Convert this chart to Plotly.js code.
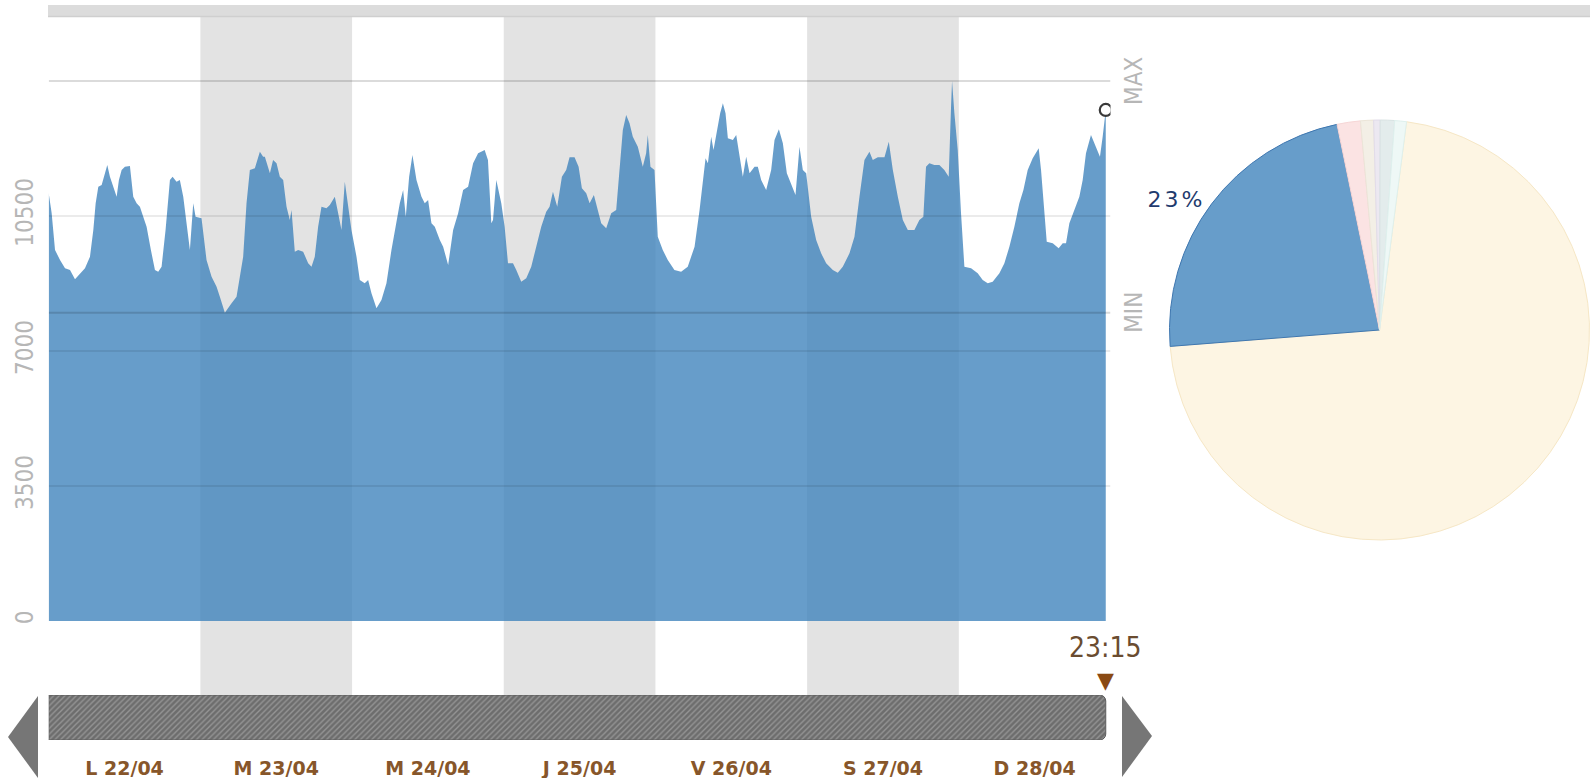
<!DOCTYPE html>
<html>
<head>
<meta charset="utf-8">
<script src="https://cdn.plot.ly/plotly-3.0.1.min.js"></script>
<style>
  html, body { margin: 0; padding: 0; background: #ffffff; }
  #chart { width: 1590px; height: 778px; }
  .slicetext { letter-spacing: 3px; }
</style>
</head>
<body>
<div id="chart"></div>
<script>
// Hours elapsed since Monday 22/04 00:00, and the matching load (MW)
const hours = [
  0, 0.47, 1.0, 1.79, 2.58, 3.37, 4.16, 4.95, 5.74, 6.53, 7.06, 7.43, 7.85, 8.38, 8.9, 9.27, 9.69,
  10.22, 10.75, 11.11, 11.54, 12.06, 12.85, 13.38, 13.91, 14.43, 14.96, 15.49, 16.17, 16.81, 17.33,
  17.86, 18.49, 19.18, 19.6, 20.23, 20.75, 21.29, 21.81, 22.34, 22.87, 23.24,
  24.18, 24.97, 25.77, 26.56, 27.08, 27.87, 28.93, 29.72, 30.77, 31.3, 31.83, 32.62, 33.41, 33.93,
  34.2, 35.0, 35.5, 36.05, 36.57, 37.1, 37.63, 38.15, 38.42, 38.94, 39.47, 40.26, 41.05, 41.58,
  42.1, 42.63, 43.16, 43.95, 44.48, 45.27, 45.8, 46.32, 46.85, 47.22, 47.9,
  48.7, 49.22, 50.0, 50.54, 51.07, 51.86, 52.65, 53.44, 54.23, 55.02, 55.55, 56.08, 56.5, 57.03,
  57.55, 58.19, 58.98, 59.5, 60.03, 60.56, 61.09, 61.88, 62.41, 63.2, 63.99, 64.78, 65.57, 66.36,
  67.15, 67.94, 68.98, 69.5, 70.03, 70.3, 70.82, 71.61,
  72.14, 72.67, 73.46, 73.98, 74.77, 75.56, 76.35, 77.14, 77.93, 78.72, 79.25, 79.78, 80.46, 81.2,
  81.88, 82.41, 83.2, 83.84, 84.36, 85.05, 85.58, 86.26, 86.89, 87.42, 88.21, 89.0, 89.79, 90.32,
  90.84, 91.37, 91.9, 92.42, 93.21, 94.0, 94.53, 94.79, 95.21, 95.85,
  96.37, 97.16, 97.95, 99.0, 100.06, 101.11, 102.19, 102.98, 103.51, 103.93, 104.3, 104.82, 105.19,
  105.72, 106.24, 106.67, 107.09, 107.46, 108.25, 108.78, 109.31, 109.83, 110.36, 110.89, 111.68,
  112.2, 112.73, 113.52, 114.31, 114.84, 115.53, 116.16, 116.79, 117.48, 118.16, 118.79, 119.32, 119.85,
  120.64, 121.43, 122.22, 123.01, 124.06, 124.85, 125.64, 126.7, 127.49, 128.28, 129.07, 129.86,
  130.39, 131.18, 132.24, 132.92, 133.56, 134.35, 135.14, 135.93, 136.97, 137.76, 138.39, 138.81,
  139.34, 140.13, 140.92, 141.71, 142.4, 142.77, 142.93, 143.3, 143.83,
  144.35, 144.88, 145.94, 146.99, 147.78, 148.57, 149.36, 150.42, 151.21, 152.0, 152.79, 153.58,
  154.22, 154.9, 155.69, 156.64, 157.01, 157.54, 157.91, 158.86, 159.8, 160.44, 160.96, 161.49,
  162.28, 163.07, 163.6, 164.12, 164.91, 165.7, 166.33, 166.76, 167.25
];
const load = [
  11087, 10569, 9618, 9359, 9143, 9100, 8858, 9013, 9143, 9445, 10137, 10828, 11260, 11304, 11606, 11822, 11520,
  11260, 11001, 11433, 11692, 11779, 11796, 11001, 10828, 10742, 10483, 10223, 9618, 9100, 9057,
  9186, 10137, 11433, 11520, 11390, 11433, 11001, 10310, 9618, 10828, 10483,
  10440, 9359, 8927, 8668, 8408, 7990, 8236, 8408, 9445, 10828, 11692, 11736, 12168, 12038,
  12038, 11606, 11952, 11865, 11520, 11433, 10742, 10396, 10655, 9575, 9618, 9575, 9273, 9186,
  9445, 10223, 10742, 10699, 10785, 11001, 10569, 10137, 11390, 10915, 10137,
  9445, 8841, 8754, 8841, 8495, 8106, 8322, 8754, 9618, 10310, 10828, 11174, 10483, 11520,
  12081, 11433, 11001, 10828, 10915, 10310, 10223, 9878, 9705, 9229, 10137, 10569, 11174, 11260,
  11865, 12124, 12211, 11952, 10310, 10396, 11433, 10828,
  10223, 9273, 9273, 9100, 8797, 8884, 9186, 9705, 10223, 10612, 10742, 11131, 10742, 11520,
  11692, 12021, 12021, 11779, 11217, 11087, 10828, 11044, 10655, 10310, 10180, 10569, 10655, 11692,
  12729, 13118, 12902, 12557, 12297, 11779, 12124, 12600, 11779, 11692,
  9964, 9618, 9359, 9100, 9057, 9186, 9705, 10655, 11433, 11995, 11865, 12557, 12211,
  12729, 13162, 13421, 13162, 12513, 12470, 12600, 12038, 11520, 12038, 11606, 11779,
  11779, 11433, 11174, 11692, 12470, 12747, 12384, 11606, 11347, 11044, 12297, 11692, 11606,
  10483, 9878, 9532, 9273, 9100, 9031, 9186, 9532, 9964, 11001, 11952, 12168,
  11952, 12021, 12021, 12427, 11692, 11001, 10396, 10137, 10137, 10396, 10483, 11779,
  11865, 11822, 11822, 11692, 11520, 13334, 14000, 13162, 12211,
  10569, 9186, 9143, 9013, 8841, 8754, 8797, 9013, 9273, 9705, 10223, 10828,
  11174, 11692, 11995, 12254, 11692, 10655, 9834, 9791, 9662, 9791, 9791, 10310,
  10655, 11001, 11433, 12124, 12600, 12297, 12038, 12557, 13250
];

const dayLabels = ['L 22/04', 'M 23/04', 'M 24/04', 'J 25/04', 'V 26/04', 'S 27/04', 'D 28/04'];
const yTicks = [0, 3500, 7000, 10500];

// Energy mix shares (%) for the pie
const mixLabels = ['Nucléaire', 'Hydraulique', 'Gaz', 'Charbon', 'Fioul', 'Éolien', 'Solaire'];
const mixShares = [71.7, 23, 1.8, 1.0, 0.5, 1.1, 0.9];
const mixColors = ['#fdf5e3', '#679dca', '#fbe3e3', '#f3efe6', '#ece8f1', '#e3ecec', '#eef8f6'];
const mixEdges  = ['#f6e7c6', '#3f77b0', '#f6d6d6', '#ebe5d8', '#e2dcea', '#d8e3e3', '#def0ed'];

// ---- page geometry (pixels) ----
const W = 1590, H = 778;
const px = v => v / W;
const py = v => 1 - v / H;
const PLOT_L = 48.7, PLOT_R = 1110.5, PLOT_T = 17, PLOT_B = 740, BAR_T = 695;

const last = hours.length - 1;
const lastHour = hours[last];
const maxLoad = Math.max(...load);
const minLoad = Math.min(...load);
const dayCount = dayLabels.length;

const hh = Math.floor(lastHour % 24);
const mm = Math.round((lastHour % 1) * 60);
const timeLabel = String(hh).padStart(2, '0') + ':' + String(mm).padStart(2, '0');

const traces = [
  {
    type: 'scatter', mode: 'lines', x: hours, y: load,
    fill: 'tozeroy', fillcolor: 'rgba(57,128,186,0.77)',
    line: { width: 0, color: 'rgba(57,128,186,0.77)' },
    hoverinfo: 'skip', xaxis: 'x', yaxis: 'y'
  },
  {
    type: 'scatter', mode: 'markers', x: [lastHour], y: [load[last]],
    marker: { symbol: 'circle', size: 12, color: '#ffffff', line: { color: '#3a3a3a', width: 2.2 } },
    hoverinfo: 'skip', xaxis: 'x', yaxis: 'y'
  },
  {
    // time scroller
    type: 'bar', orientation: 'h', x: [lastHour], y: [0], width: 1,
    xaxis: 'x', yaxis: 'y2', hoverinfo: 'skip',
    marker: {
      color: '#737373',
      line: { color: '#5c5c5c', width: 1 },
      pattern: { shape: '/', bgcolor: '#6d6d6d', fgcolor: '#959595', size: 4, solidity: 0.35 }
    }
  },
  {
    type: 'pie', labels: mixLabels, values: mixShares, sort: false,
    direction: 'clockwise', rotation: 7.4,
    domain: { x: [px(1169), 1], y: [py(540), py(120)] },
    marker: { colors: mixColors, line: { color: mixEdges, width: 1 } },
    texttemplate: '%{percent:.0%}',
    textposition: mixShares.map((v, i) => i === 1 ? 'outside' : 'none'),
    outsidetextfont: { family: 'DejaVu Sans', size: 22, color: '#1f3b6e' },
    hoverinfo: 'skip', showlegend: false
  }
];

const shapes = [];
// shaded alternate days
for (let i = 0; i < dayCount; i++) {
  if (i % 2 === 1) {
    shapes.push({
      type: 'rect', xref: 'x', yref: 'paper', x0: i * 24, x1: (i + 1) * 24,
      y0: py(PLOT_B), y1: py(PLOT_T), fillcolor: '#e3e3e3', line: { width: 0 }, layer: 'below'
    });
  }
}
// horizontal guides drawn over the area
yTicks.filter(t => t > 0).forEach(t => {
  shapes.push({
    type: 'line', xref: 'x', yref: 'y', x0: 0, x1: dayCount * 24, y0: t, y1: t,
    line: { color: 'rgba(0,0,0,0.08)', width: 2 }, layer: 'above'
  });
});
[maxLoad, minLoad].forEach(v => {
  shapes.push({
    type: 'line', xref: 'x', yref: 'y', x0: 0, x1: dayCount * 24, y0: v, y1: v,
    line: { color: 'rgba(0,0,0,0.14)', width: 2 }, layer: 'above'
  });
});
// top rail
shapes.push({
  type: 'rect', xref: 'paper', yref: 'paper', x0: px(48), x1: 1, y0: py(17), y1: py(5),
  fillcolor: '#dcdcdc', line: { width: 0 }, layer: 'above'
});
shapes.push({
  type: 'line', xref: 'paper', yref: 'paper', x0: px(48), x1: 1, y0: py(16.5), y1: py(16.5),
  line: { color: '#cfcfcf', width: 1.5 }, layer: 'above'
});
// scroller arrows
const tri = pts => 'M ' + pts.map(p => px(p[0]) + ',' + py(p[1])).join(' L ') + ' Z';
shapes.push({
  type: 'path', xref: 'paper', yref: 'paper', path: tri([[38, 696], [38, 778], [8, 737]]),
  fillcolor: '#767676', line: { width: 0 }, layer: 'above'
});
shapes.push({
  type: 'path', xref: 'paper', yref: 'paper', path: tri([[1122, 696], [1122, 777], [1152, 736]]),
  fillcolor: '#767676', line: { width: 0 }, layer: 'above'
});

const labelFont = { family: 'Liberation Sans Narrow, DejaVu Sans Condensed, Roboto, sans-serif', size: 24, color: '#b6b6b6' };

const annotations = [
  { xref: 'paper', yref: 'y', x: px(1134), y: maxLoad, xanchor: 'center', yanchor: 'middle',
    text: 'MAX', textangle: -90, showarrow: false, font: labelFont },
  { xref: 'paper', yref: 'y', x: px(1134), y: minLoad, xanchor: 'center', yanchor: 'middle',
    text: 'MIN', textangle: -90, showarrow: false, font: labelFont },
  { xref: 'x', yref: 'paper', x: lastHour, y: py(647), xanchor: 'center', yanchor: 'middle',
    text: timeLabel, showarrow: false, borderpad: 0,
    font: { family: 'DejaVu Sans Condensed, DejaVu Sans, sans-serif', size: 28, color: '#6a4c30' } },
  { xref: 'x', yref: 'paper', x: lastHour, y: py(680), xanchor: 'center', yanchor: 'middle',
    text: '▼', showarrow: false, borderpad: 0,
    font: { family: 'DejaVu Sans, sans-serif', size: 22, color: '#8a4a14' } }
];

const layout = {
  width: W, height: H,
  margin: { l: 0, r: 0, t: 0, b: 0 },
  paper_bgcolor: '#ffffff', plot_bgcolor: 'rgba(0,0,0,0)',
  showlegend: false,
  barcornerradius: 6,
  xaxis: {
    domain: [px(PLOT_L), px(PLOT_R)], range: [0, dayCount * 24],
    tickvals: dayLabels.map((d, i) => i * 24 + 12), ticktext: dayLabels,
    tickfont: { family: 'DejaVu Sans, sans-serif', size: 19, color: '#87562a', weight: 'bold' },
    showgrid: false, zeroline: false, showline: false, ticks: '', ticklabelstandoff: 15,
    fixedrange: true
  },
  yaxis: {
    domain: [py(PLOT_B), py(PLOT_T)], range: [-3085, 15659],
    tickvals: yTicks, tickformat: 'd', tickangle: -90,
    tickfont: labelFont,
    showgrid: false, zeroline: false, showline: false, ticks: '', ticklabelstandoff: 10,
    fixedrange: true
  },
  yaxis2: {
    domain: [py(PLOT_B), py(BAR_T)], range: [-0.5, 0.5], anchor: 'x', visible: false, fixedrange: true
  },
  shapes: shapes,
  annotations: annotations
};

Plotly.newPlot('chart', traces, layout, { displayModeBar: false, staticPlot: true });
</script>
</body>
</html>
